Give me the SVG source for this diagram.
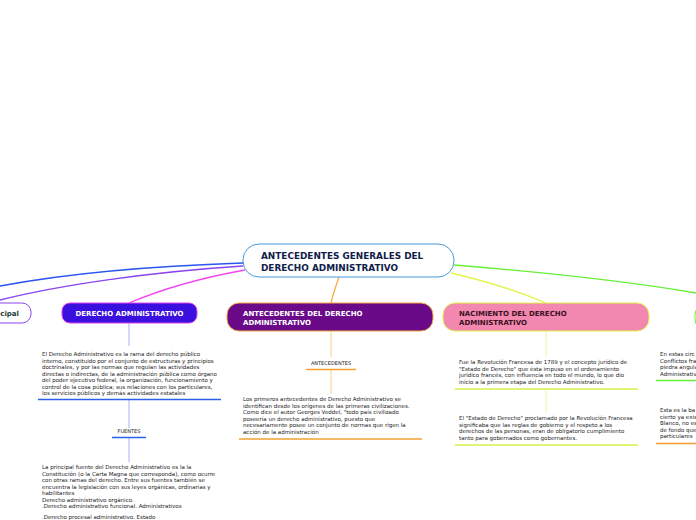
<svg xmlns="http://www.w3.org/2000/svg" width="696" height="520" viewBox="0 0 696 520">
<style>
.t{font-family:"DejaVu Sans",Verdana,sans-serif;font-size:5.5px;fill:#222}
.lbl{font-family:"DejaVu Sans",Verdana,sans-serif;font-size:5px;fill:#222;text-anchor:middle}
.nb{font-family:"DejaVu Sans",Verdana,sans-serif;font-weight:bold;font-size:7px}
.c{fill:none;stroke-width:1.3}
</style>
<rect width="696" height="520" fill="#ffffff"/>
<g id="connectors">
<path class="c" d="M243,263 C150,266 70,273 0,286" stroke="#2a55f0"/>
<path class="c" d="M243,266 C150,272 60,285 0,300" stroke="#8a45f0"/>
<path class="c" d="M245,270 C200,278 160,290 129,303" stroke="#f045f0"/>
<path class="c" d="M339,277 C336,286 333,294 331,303" stroke="#f5a840"/>
<path class="c" d="M451,273 C490,282 520,292 546,303" stroke="#e2f548"/>
<path class="c" d="M454,265 C540,272 620,280 696,293" stroke="#66f038"/>
<g stroke-width="1">
<line x1="129" y1="323" x2="129" y2="346" stroke="#a8b0f5"/>
<line x1="129" y1="400" x2="129" y2="428" stroke="#a8b0f5"/>
<line x1="129" y1="438" x2="129" y2="462" stroke="#a8b0f5"/>
<line x1="331" y1="331" x2="331" y2="357" stroke="#f9d08a"/>
<line x1="331" y1="370" x2="331" y2="394" stroke="#f9d08a"/>
<line x1="546" y1="331" x2="546" y2="357" stroke="#eef7a0"/>
<line x1="546" y1="390" x2="546" y2="413" stroke="#eef7a0"/>
</g>
</g>
<g id="central">
<rect x="243" y="244" width="211" height="33" rx="16" fill="#ffffff" stroke="#4a9ad6" stroke-width="1"/>
<text x="261" y="259" font-family="DejaVu Sans,Verdana,sans-serif" font-weight="bold" font-size="8.9" fill="#10204a">ANTECEDENTES GENERALES DEL</text>
<text x="261" y="271" font-family="DejaVu Sans,Verdana,sans-serif" font-weight="bold" font-size="8.9" fill="#10204a">DERECHO ADMINISTRATIVO</text>
</g>
<g id="principal">
<rect x="-30" y="303" width="61" height="20" rx="9" fill="#ffffff" stroke="#8a45f0" stroke-width="1"/>
<text x="19" y="316" class="nb" text-anchor="end" fill="#1c3a38">cipal</text>
</g>
<g id="derecho">
<rect x="62" y="303" width="135" height="20" rx="8" fill="#3a10de" stroke="#e040e8" stroke-width="1"/>
<text x="129.5" y="316" class="nb" text-anchor="middle" fill="#ffffff" font-size="7.2">DERECHO ADMINISTRATIVO</text>
</g>
<g id="antecedentes">
<rect x="227" y="303" width="206" height="28" rx="12" fill="#6a0a88" stroke="#f5a840" stroke-width="1"/>
<text x="243" y="316" class="nb" fill="#ffffff">ANTECEDENTES DEL DERECHO</text>
<text x="243" y="325" class="nb" fill="#ffffff">ADMINISTRATIVO</text>
</g>
<g id="nacimiento">
<rect x="443" y="303" width="206" height="28" rx="12" fill="#f288b0" stroke="#e2f548" stroke-width="1"/>
<text x="459" y="316" class="nb" fill="#3a1020">NACIMIENTO DEL DERECHO</text>
<text x="459" y="325" class="nb" fill="#3a1020">ADMINISTRATIVO</text>
</g>
<g id="right-node">
<rect x="695" y="303" width="60" height="28" rx="12" fill="#ffffff" stroke="#66f038" stroke-width="1"/>
</g>
<g id="derecho-def">
<text class="t" x="42" y="356">El Derecho Administrativo es la rama del derecho público</text>
<text class="t" x="42" y="362.5">interno, constituido por el conjunto de estructuras y principios</text>
<text class="t" x="42" y="369">doctrinales, y por las normas que regulan las actividades</text>
<text class="t" x="42" y="375.5">directas o indirectas, de la administración pública como órgano</text>
<text class="t" x="42" y="382">del poder ejecutivo federal, la organización, funcionamiento y</text>
<text class="t" x="42" y="388.5">control de la cosa pública; sus relaciones con los particulares,</text>
<text class="t" x="42" y="395">los servicios públicos y demás actividades estatales</text>
<line x1="38" y1="399.5" x2="221" y2="399.5" stroke="#2a60e8" stroke-width="1.6"/>
</g>
<g id="fuentes">
<text class="lbl" x="129" y="433">FUENTES</text>
<line x1="112" y1="437.5" x2="146" y2="437.5" stroke="#2a60e8" stroke-width="1.4"/>
</g>
<g id="fuentes-text">
<text class="t" x="42" y="469">La principal fuente del Derecho Administrativo es la la</text>
<text class="t" x="42" y="475.5">Constitución (o la Carta Magna que corresponda), como ocurre</text>
<text class="t" x="42" y="482">con otras ramas del derecho. Entre sus fuentes también se</text>
<text class="t" x="42" y="488.5">encuentra la legislación con sus leyes orgánicas, ordinarias y</text>
<text class="t" x="42" y="495">habilitantes</text>
<text class="t" x="42" y="501.5">Derecho administrativo orgánico.</text>
<text class="t" x="42" y="508">.Derecho administrativo funcional. Administrativos</text>
<text class="t" x="42" y="519">.Derecho procesal administrativo. Estado</text>
</g>
<g id="antecedentes-lbl">
<text class="lbl" x="331" y="364.5">ANTECEDENTES</text>
<line x1="306" y1="369.5" x2="356" y2="369.5" stroke="#f5a030" stroke-width="1.4"/>
</g>
<g id="antecedentes-text">
<text class="t" x="243" y="401">Los primeros antecedentes de Derecho Administrativo se</text>
<text class="t" x="243" y="407.5">identifican desde los orígenes de las primeras civilizaciones.</text>
<text class="t" x="243" y="414">Como dice el autor Georges Veddel, "todo país civilizado</text>
<text class="t" x="243" y="420.5">poseería un derecho administrativo, puesto que</text>
<text class="t" x="243" y="427">necesariamente posee un conjunto de normas que rigen la</text>
<text class="t" x="243" y="433.5">acción de la administración</text>
<line x1="239" y1="439" x2="422" y2="439" stroke="#f5a030" stroke-width="1.4"/>
</g>
<g id="nacimiento-text1">
<text class="t" x="459" y="364">Fue la Revolución Francesa de 1789 y el concepto jurídico de</text>
<text class="t" x="459" y="370.5">"Estado de Derecho" que ésta impuso en el ordenamiento</text>
<text class="t" x="459" y="377">jurídico francés, con influencia en todo el mundo, lo que dio</text>
<text class="t" x="459" y="383.5">inicio a la primera etapa del Derecho Administrativo.</text>
<line x1="455" y1="389" x2="638" y2="389" stroke="#d8f048" stroke-width="1.4"/>
</g>
<g id="nacimiento-text2">
<text class="t" x="459" y="420">El "Estado de Derecho" proclamado por la Revolución Francesa</text>
<text class="t" x="459" y="426.5">significaba que las reglas de gobierno y el respeto a los</text>
<text class="t" x="459" y="433">derechos de las personas, eran de obligatorio cumplimiento</text>
<text class="t" x="459" y="439.5">tanto para gobernados como gobernantes.</text>
<line x1="455" y1="445" x2="638" y2="445" stroke="#d8f048" stroke-width="1.4"/>
</g>
<g id="right-text1">
<text class="t" x="660" y="356">En estas circ</text>
<text class="t" x="660" y="362.5">Conflictos fra</text>
<text class="t" x="660" y="369">piedra angula</text>
<text class="t" x="660" y="375.5">Administrativ</text>
<line x1="656" y1="380.5" x2="696" y2="380.5" stroke="#66f038" stroke-width="1.4"/>
</g>
<g id="right-text2">
<text class="t" x="660" y="412">Esta es la ba</text>
<text class="t" x="660" y="418.5">cierto ya exis</text>
<text class="t" x="660" y="425">Blanco, no es</text>
<text class="t" x="660" y="431.5">de fondo que</text>
<text class="t" x="660" y="438">particulares</text>
<line x1="656" y1="443.5" x2="696" y2="443.5" stroke="#f5a030" stroke-width="1.4"/>
</g>
</svg>
